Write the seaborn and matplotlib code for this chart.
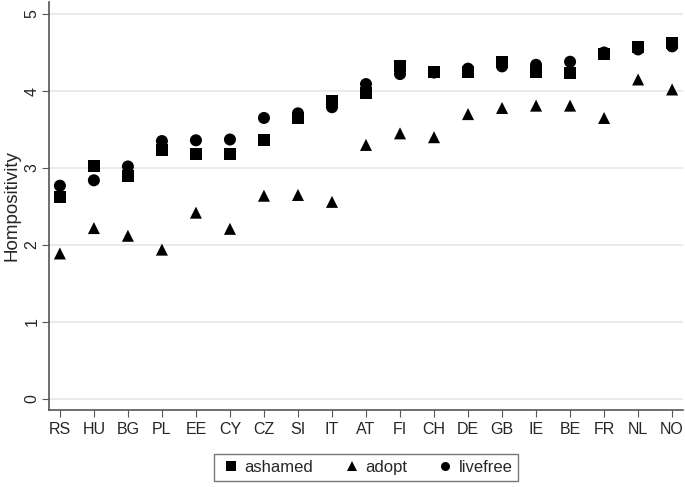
import pandas as pd
import seaborn as sns
import matplotlib.pyplot as plt

countries = ["RS", "HU", "BG", "PL", "EE", "CY", "CZ", "SI", "IT", "AT",
             "FI", "CH", "DE", "GB", "IE", "BE", "FR", "NL", "NO"]
ashamed = [2.62, 3.02, 2.89, 3.23, 3.18, 3.18, 3.37, 3.65, 3.87, 3.97,
           4.32, 4.25, 4.25, 4.38, 4.25, 4.24, 4.48, 4.57, 4.62]
adopt = [1.89, 2.22, 2.12, 1.94, 2.42, 2.21, 2.64, 2.65, 2.56, 3.30,
         3.45, 3.40, 3.70, 3.78, 3.81, 3.81, 3.65, 4.15, 4.02]
livefree = [2.77, 2.84, 3.02, 3.35, 3.36, 3.37, 3.65, 3.71, 3.79, 4.09,
            4.22, 4.24, 4.29, 4.32, 4.34, 4.38, 4.50, 4.54, 4.58]

# livefree first so squares end up on top
frames = []
for name, vals in [("livefree", livefree), ("adopt", adopt), ("ashamed", ashamed)]:
    frames.append(pd.DataFrame({"country": countries, "value": vals, "item": name}))
df = pd.concat(frames, ignore_index=True)
df["x"] = df["country"].map({c: i for i, c in enumerate(countries)})

sns.set_style("white")
plt.rcParams["font.family"] = ["Liberation Sans", "DejaVu Sans"]

fig = plt.figure(figsize=(6.85, 4.87), dpi=100)
ax = fig.add_axes([49 / 685, 77 / 487, 634 / 685, 408 / 487])

ax.grid(axis="y", color="#e6e6e6", linewidth=1.2)
ax.set_axisbelow(True)

sns.scatterplot(data=df, x="x", y="value", style="item",
                style_order=["ashamed", "adopt", "livefree"],
                markers={"ashamed": "s", "adopt": "^", "livefree": "o"},
                color="black", s=75, linewidth=0, ax=ax, legend=True)

ax.set_xlim(-0.32, 18.32)
ax.set_ylim(-0.143, 5.156)
ax.set_xticks(range(len(countries)))
ax.set_xticklabels(countries)
ax.set_yticks([0, 1, 2, 3, 4, 5])
ax.set_yticklabels(["0", "1", "2", "3", "4", "5"], rotation=90, va="center")
ax.set_xlabel("")
ax.set_ylabel("Hompositivity", fontsize=13.5, labelpad=3)
ax.tick_params(axis="both", labelsize=11.5, length=5, color="#555555",
               direction="out", bottom=True, left=True, pad=4)
ax.tick_params(axis="y", pad=2)

for side in ["top", "right"]:
    ax.spines[side].set_visible(False)
for side in ["left", "bottom"]:
    ax.spines[side].set_color("#555555")
    ax.spines[side].set_linewidth(1.2)

handles, labels = ax.get_legend_handles_labels()
leg = ax.legend(handles, labels, loc="upper center", bbox_to_anchor=(0.5, -0.088),
                ncol=3, frameon=True, fancybox=False, edgecolor="#555555",
                fontsize=12, handletextpad=0.1, columnspacing=1.6,
                borderpad=0.35, markerscale=0.75, handlelength=1.4)
leg.get_frame().set_linewidth(1.0)

fig.savefig("out.png", dpi=100)
